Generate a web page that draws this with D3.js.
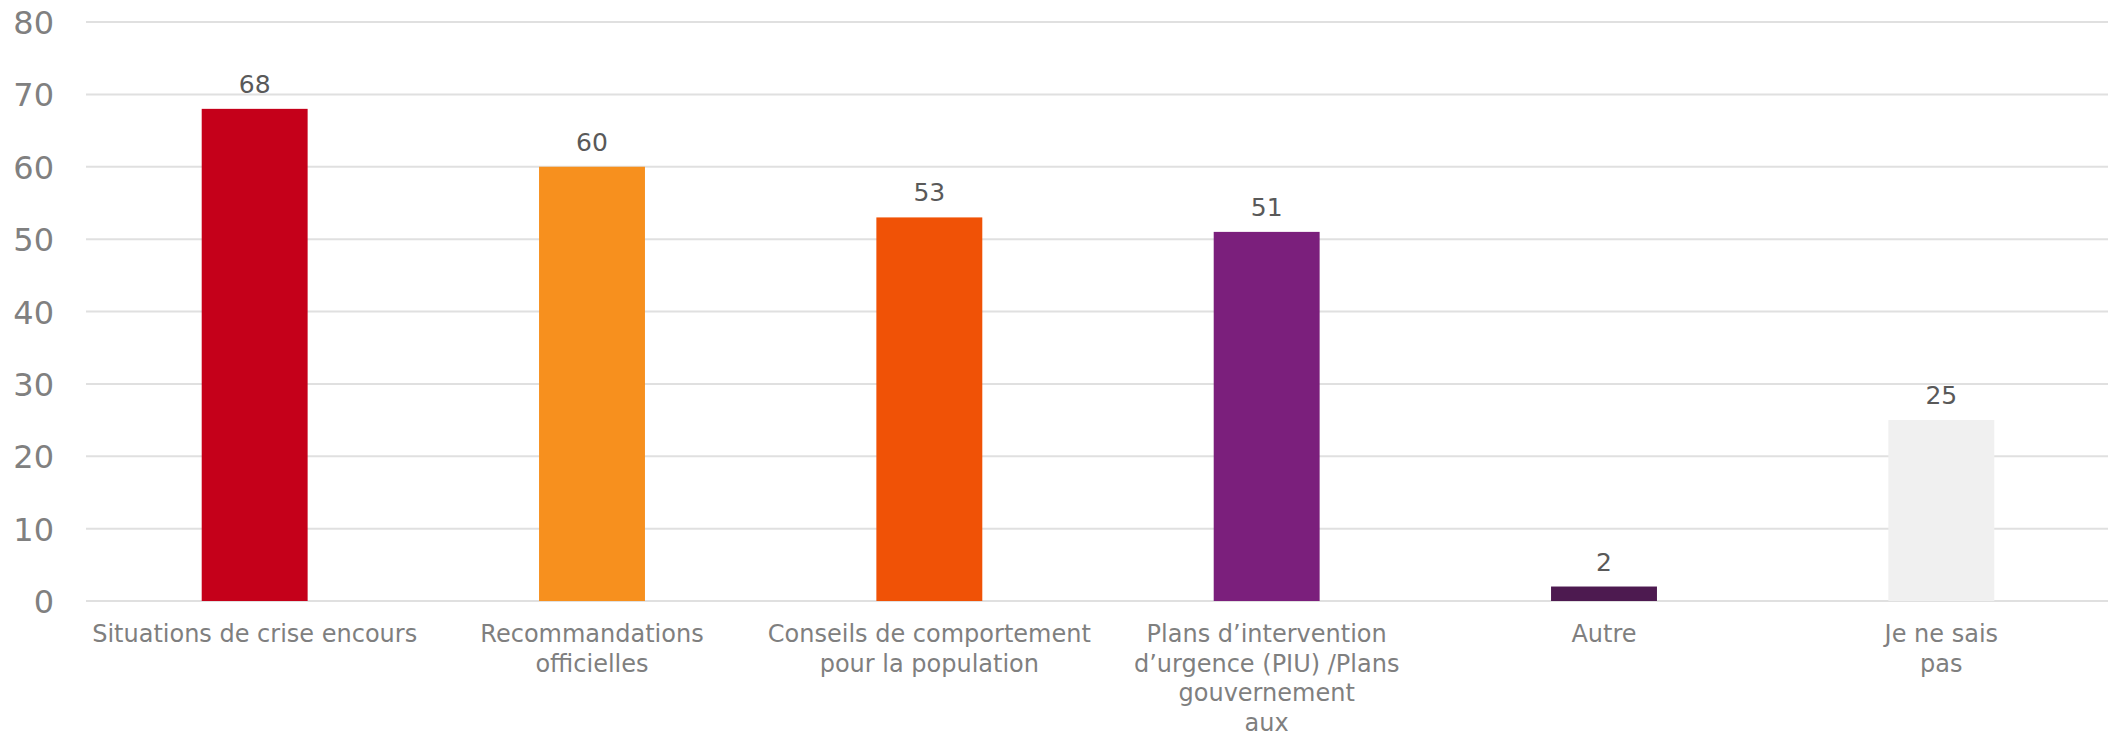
<!DOCTYPE html>
<html>
<head>
<meta charset="utf-8">
<script src="https://cdn.jsdelivr.net/npm/d3@7"></script>
<style>
  body { margin: 0; background: #fff; }
  text { font-family: "DejaVu Sans", Verdana, sans-serif; }
</style>
</head>
<body>
<div id="chart"></div>
<script>
// Chart data
const categories = [
    "Situations de crise encours",
    "Recommandations\nofficielles",
    "Conseils de comportement\npour la population",
    "Plans d’intervention\nd’urgence (PIU) /Plans\ngouvernement\naux",
    "Autre",
    "Je ne sais\npas"
];
const values = [68, 60, 53, 51, 2, 25];
const barColors = ["#c5001a", "#f7901e", "#f05206", "#7b1f7c", "#4d1a50", "#f0f0f0"];
const yTicks = [0, 10, 20, 30, 40, 50, 60, 70, 80];

// Chart dimensions
let dimensions = {
    width: 2108,
    height: 735,
    margin: { top: 22, left: 86, right: -2, bottom: 134 }
};

const svg = d3.select('#chart')
    .append('svg')
    .attr('width', dimensions.width)
    .attr('height', dimensions.height);

const x = d3.scaleBand()
    .domain(categories)
    .range([dimensions.margin.left, dimensions.width - dimensions.margin.right])
    .paddingInner(0.686)
    .paddingOuter(0.343);

const y = d3.scaleLinear()
    .domain([0, 80])
    .range([dimensions.height - dimensions.margin.bottom, dimensions.margin.top]);

// Gridlines
svg.append('g')
    .selectAll('line')
    .data(yTicks)
    .enter()
    .append('line')
    .attr('x1', dimensions.margin.left)
    .attr('x2', dimensions.width)
    .attr('y1', d => y(d))
    .attr('y2', d => y(d))
    .attr('stroke', '#e0e0e0')
    .attr('stroke-width', 2);

// Y axis labels
const yAxis = d3.axisLeft(y).tickValues(yTicks).tickSize(0).tickPadding(0);
svg.append('g')
    .attr('transform', 'translate(54,0)')
    .call(yAxis)
    .call(g => g.select('.domain').remove())
    .selectAll('text')
    .attr('fill', '#808080')
    .style('font-size', '32px')
    .attr('dy', '0.36em');

// Bars
svg.append('g')
    .selectAll('rect')
    .data(values)
    .enter()
    .append('rect')
    .attr('x', (d, i) => x(categories[i]))
    .attr('y', d => y(d))
    .attr('width', x.bandwidth())
    .attr('height', d => y(0) - y(d))
    .attr('fill', (d, i) => barColors[i]);

// Value labels
svg.append('g')
    .selectAll('text')
    .data(values)
    .enter()
    .append('text')
    .attr('x', (d, i) => x(categories[i]) + x.bandwidth() / 2)
    .attr('y', d => y(d) - 16)
    .attr('text-anchor', 'middle')
    .attr('fill', '#595959')
    .style('font-size', '25px')
    .text(d => d);

// Category labels, one tspan per line
const catLabels = svg.append('g')
    .selectAll('text')
    .data(categories)
    .enter()
    .append('text')
    .attr('text-anchor', 'middle')
    .attr('fill', '#7f7f7f')
    .style('font-size', '24px')
    .attr('transform', d => `translate(${x(d) + x.bandwidth() / 2}, ${y(0) + 41})`);

catLabels.selectAll('tspan')
    .data(d => d.split('\n'))
    .enter()
    .append('tspan')
    .attr('x', 0)
    .attr('y', (d, i) => i * 29.5)
    .text(d => d);
</script>
</body>
</html>
